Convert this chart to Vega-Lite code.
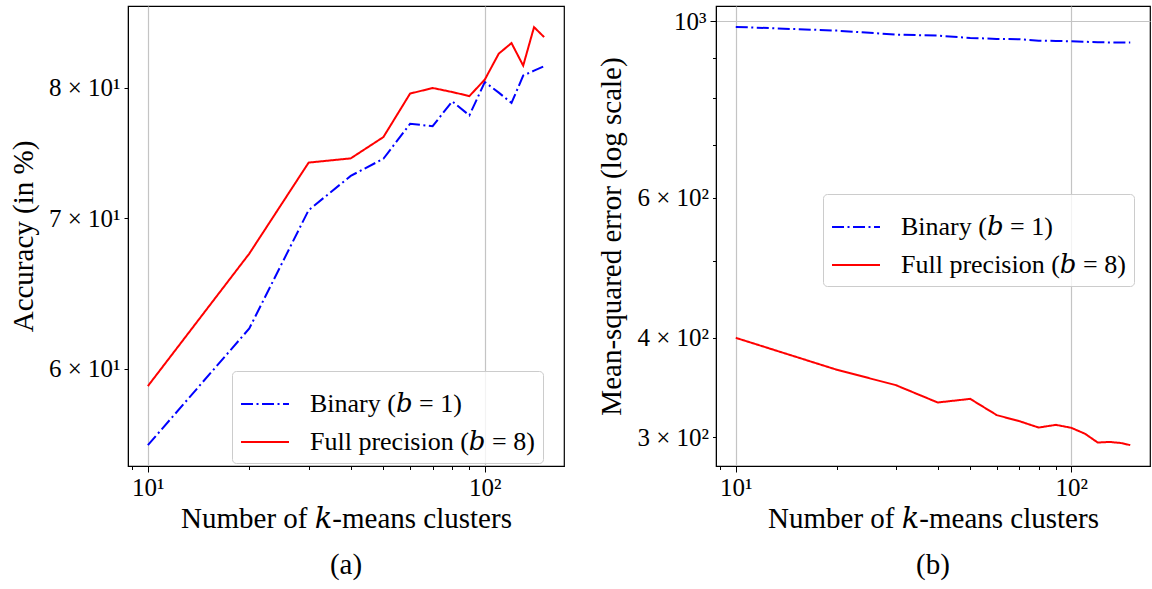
{
  "$schema": "https://vega.github.io/schema/vega-lite/v6.json",
  "padding": {"left": 8, "top": 5, "right": 0, "bottom": 0},
  "background": "white",
  "config": {
    "font": "Liberation Serif, DejaVu Serif",
    "view": {"stroke": "#000000", "strokeWidth": 1.2},
    "axis": {
      "labelFont": "Liberation Serif, DejaVu Serif",
      "titleFont": "Liberation Serif, DejaVu Serif",
      "labelColor": "#000000",
      "titleColor": "#000000",
      "domainColor": "#000000",
      "tickColor": "#000000",
      "titleFontWeight": "normal",
      "labelOverlap": false,
      "labelFlush": false,
      "labelFontSize": 25,
      "titleFontSize": 29,
      "gridColor": "#c4c4c4",
      "gridWidth": 1.2
    },
    "legend": {
      "labelFont": "Liberation Serif, DejaVu Serif",
      "labelFontSize": 26,
      "labelColor": "#000000",
      "labelLimit": 400
    },
    "title": {"font": "Liberation Serif", "fontSize": 29, "fontWeight": "normal", "color": "#000000"}
  },
  "datasets": {
    "accuracy": [
      {"k": 10, "series": "Binary (𝑏 = 1)", "value": 55.48},
      {"k": 20, "series": "Binary (𝑏 = 1)", "value": 62.52},
      {"k": 30, "series": "Binary (𝑏 = 1)", "value": 70.57},
      {"k": 40, "series": "Binary (𝑏 = 1)", "value": 73.09},
      {"k": 50, "series": "Binary (𝑏 = 1)", "value": 74.38},
      {"k": 60, "series": "Binary (𝑏 = 1)", "value": 77.09},
      {"k": 70, "series": "Binary (𝑏 = 1)", "value": 76.90},
      {"k": 80, "series": "Binary (𝑏 = 1)", "value": 78.88},
      {"k": 90, "series": "Binary (𝑏 = 1)", "value": 77.76},
      {"k": 100, "series": "Binary (𝑏 = 1)", "value": 80.46},
      {"k": 110, "series": "Binary (𝑏 = 1)", "value": 79.59},
      {"k": 120, "series": "Binary (𝑏 = 1)", "value": 78.75},
      {"k": 130, "series": "Binary (𝑏 = 1)", "value": 80.99},
      {"k": 140, "series": "Binary (𝑏 = 1)", "value": 81.40},
      {"k": 150, "series": "Binary (𝑏 = 1)", "value": 81.78},
      {"k": 10, "series": "Full precision (𝑏 = 8)", "value": 58.94},
      {"k": 20, "series": "Full precision (𝑏 = 8)", "value": 67.50},
      {"k": 30, "series": "Full precision (𝑏 = 8)", "value": 74.09},
      {"k": 40, "series": "Full precision (𝑏 = 8)", "value": 74.41},
      {"k": 50, "series": "Full precision (𝑏 = 8)", "value": 76.05},
      {"k": 60, "series": "Full precision (𝑏 = 8)", "value": 79.51},
      {"k": 70, "series": "Full precision (𝑏 = 8)", "value": 79.97},
      {"k": 80, "series": "Full precision (𝑏 = 8)", "value": 79.64},
      {"k": 90, "series": "Full precision (𝑏 = 8)", "value": 79.31},
      {"k": 100, "series": "Full precision (𝑏 = 8)", "value": 80.66},
      {"k": 110, "series": "Full precision (𝑏 = 8)", "value": 82.83},
      {"k": 120, "series": "Full precision (𝑏 = 8)", "value": 83.73},
      {"k": 130, "series": "Full precision (𝑏 = 8)", "value": 81.82},
      {"k": 140, "series": "Full precision (𝑏 = 8)", "value": 85.11},
      {"k": 150, "series": "Full precision (𝑏 = 8)", "value": 84.24}
    ],
    "mse": [
      {"k": 10, "series": "Binary (𝑏 = 1)", "value": 983.9},
      {"k": 20, "series": "Binary (𝑏 = 1)", "value": 973.4},
      {"k": 30, "series": "Binary (𝑏 = 1)", "value": 962.2},
      {"k": 40, "series": "Binary (𝑏 = 1)", "value": 959.4},
      {"k": 50, "series": "Binary (𝑏 = 1)", "value": 953.1},
      {"k": 60, "series": "Binary (𝑏 = 1)", "value": 950.3},
      {"k": 70, "series": "Binary (𝑏 = 1)", "value": 949.3},
      {"k": 80, "series": "Binary (𝑏 = 1)", "value": 945.6},
      {"k": 90, "series": "Binary (𝑏 = 1)", "value": 944.8},
      {"k": 100, "series": "Binary (𝑏 = 1)", "value": 943.7},
      {"k": 110, "series": "Binary (𝑏 = 1)", "value": 942.4},
      {"k": 120, "series": "Binary (𝑏 = 1)", "value": 941.3},
      {"k": 130, "series": "Binary (𝑏 = 1)", "value": 940.6},
      {"k": 140, "series": "Binary (𝑏 = 1)", "value": 940.2},
      {"k": 150, "series": "Binary (𝑏 = 1)", "value": 940.2},
      {"k": 10, "series": "Full precision (𝑏 = 8)", "value": 400.0},
      {"k": 20, "series": "Full precision (𝑏 = 8)", "value": 364.7},
      {"k": 30, "series": "Full precision (𝑏 = 8)", "value": 348.8},
      {"k": 40, "series": "Full precision (𝑏 = 8)", "value": 331.7},
      {"k": 50, "series": "Full precision (𝑏 = 8)", "value": 335.2},
      {"k": 60, "series": "Full precision (𝑏 = 8)", "value": 319.8},
      {"k": 70, "series": "Full precision (𝑏 = 8)", "value": 314.3},
      {"k": 80, "series": "Full precision (𝑏 = 8)", "value": 308.5},
      {"k": 90, "series": "Full precision (𝑏 = 8)", "value": 310.9},
      {"k": 100, "series": "Full precision (𝑏 = 8)", "value": 308.3},
      {"k": 110, "series": "Full precision (𝑏 = 8)", "value": 303.0},
      {"k": 120, "series": "Full precision (𝑏 = 8)", "value": 295.4},
      {"k": 130, "series": "Full precision (𝑏 = 8)", "value": 295.9},
      {"k": 140, "series": "Full precision (𝑏 = 8)", "value": 295.1},
      {"k": 150, "series": "Full precision (𝑏 = 8)", "value": 293.2}
    ]
  },
  "spacing": 32,
  "resolve": {
    "legend": {"color": "independent", "strokeDash": "independent"}
  },
  "hconcat": [
    {
      "width": 436,
      "height": 460,
      "data": {"name": "accuracy"},
      "title": {"text": "(a)", "orient": "bottom", "anchor": "middle", "offset": 18},
      "mark": {"type": "line", "strokeWidth": 2, "clip": true},
      "encoding": {
        "x": {
          "field": "k", "type": "quantitative",
          "scale": {"type": "log", "domain": [8.73, 171.8], "nice": false},
          "axis": {
            "title": "Number of 𝑘-means clusters",
            "values": [9, 10, 20, 30, 40, 50, 60, 70, 80, 90, 100],
            "labelExpr": "datum.value == 10 ? '10¹' : datum.value == 100 ? '10²' : ''",
            "grid": true,
            "gridOpacity": {"condition": {"test": "datum.value == 10 || datum.value == 100", "value": 1}, "value": 0},
            "tickSize": {"condition": {"test": "datum.value == 10 || datum.value == 100", "value": 6}, "value": 3.5},
            "labelPadding": 3,
            "titlePadding": 4
          }
        },
        "y": {
          "field": "value", "type": "quantitative",
          "scale": {"type": "log", "domain": [54.31, 86.97], "nice": false},
          "axis": {
            "title": "Accuracy (in %)",
            "values": [60, 70, 80],
            "labelExpr": "format(datum.value / 10, 'd') + ' × 10¹'",
            "grid": false,
            "tickSize": 4,
            "labelPadding": 4,
            "titlePadding": 10
          }
        },
        "color": {
          "field": "series", "type": "nominal",
          "scale": {"domain": ["Binary (𝑏 = 1)", "Full precision (𝑏 = 8)"], "range": ["#0000ff", "#ff0000"]},
          "legend": {
            "title": null, "orient": "none", "legendX": 104, "legendY": 365,
            "symbolType": "stroke", "symbolSize": 2300, "symbolStrokeWidth": 2,
            "labelOffset": 20, "rowPadding": -3, "padding": 8,
            "strokeColor": "#cccccc", "cornerRadius": 4, "fillColor": "rgba(255,255,255,0.8)"
          }
        },
        "strokeDash": {
          "field": "series", "type": "nominal",
          "scale": {"domain": ["Binary (𝑏 = 1)", "Full precision (𝑏 = 8)"], "range": [[12, 3.5, 2, 3.5], [1, 0]]},
          "legend": {
            "title": null, "orient": "none", "legendX": 104, "legendY": 365,
            "symbolType": "stroke", "symbolSize": 2300, "symbolStrokeWidth": 2,
            "labelOffset": 20, "rowPadding": -3, "padding": 8,
            "strokeColor": "#cccccc", "cornerRadius": 4, "fillColor": "rgba(255,255,255,0.8)"
          }
        }
      }
    },
    {
      "width": 434,
      "height": 460,
      "data": {"name": "mse"},
      "title": {"text": "(b)", "orient": "bottom", "anchor": "middle", "offset": 18},
      "mark": {"type": "line", "strokeWidth": 2, "clip": true},
      "encoding": {
        "x": {
          "field": "k", "type": "quantitative",
          "scale": {"type": "log", "domain": [8.73, 171.8], "nice": false},
          "axis": {
            "title": "Number of 𝑘-means clusters",
            "values": [9, 10, 20, 30, 40, 50, 60, 70, 80, 90, 100],
            "labelExpr": "datum.value == 10 ? '10¹' : datum.value == 100 ? '10²' : ''",
            "grid": true,
            "gridOpacity": {"condition": {"test": "datum.value == 10 || datum.value == 100", "value": 1}, "value": 0},
            "tickSize": {"condition": {"test": "datum.value == 10 || datum.value == 100", "value": 6}, "value": 3.5},
            "labelPadding": 3,
            "titlePadding": 4
          }
        },
        "y": {
          "field": "value", "type": "quantitative",
          "scale": {"type": "log", "domain": [276.0, 1045.3], "nice": false},
          "axis": {
            "title": "Mean-squared error (log scale)",
            "values": [300, 400, 500, 600, 700, 800, 900, 1000],
            "labelExpr": "datum.value == 1000 ? '10³' : (datum.value == 300 || datum.value == 400 || datum.value == 600) ? format(datum.value / 100, 'd') + ' × 10²' : ''",
            "grid": true,
            "gridOpacity": {"condition": {"test": "datum.value == 1000", "value": 1}, "value": 0},
            "tickSize": {"condition": {"test": "datum.value == 1000", "value": 6}, "value": 3.5},
            "labelPadding": 4,
            "titlePadding": 10
          }
        },
        "color": {
          "field": "series", "type": "nominal",
          "scale": {"domain": ["Binary (𝑏 = 1)", "Full precision (𝑏 = 8)"], "range": ["#0000ff", "#ff0000"]},
          "legend": {
            "title": null, "orient": "none", "legendX": 107, "legendY": 188,
            "symbolType": "stroke", "symbolSize": 2300, "symbolStrokeWidth": 2,
            "labelOffset": 20, "rowPadding": -3, "padding": 8,
            "strokeColor": "#cccccc", "cornerRadius": 4, "fillColor": "rgba(255,255,255,0.8)"
          }
        },
        "strokeDash": {
          "field": "series", "type": "nominal",
          "scale": {"domain": ["Binary (𝑏 = 1)", "Full precision (𝑏 = 8)"], "range": [[12, 3.5, 2, 3.5], [1, 0]]},
          "legend": {
            "title": null, "orient": "none", "legendX": 107, "legendY": 188,
            "symbolType": "stroke", "symbolSize": 2300, "symbolStrokeWidth": 2,
            "labelOffset": 20, "rowPadding": -3, "padding": 8,
            "strokeColor": "#cccccc", "cornerRadius": 4, "fillColor": "rgba(255,255,255,0.8)"
          }
        }
      }
    }
  ]
}
